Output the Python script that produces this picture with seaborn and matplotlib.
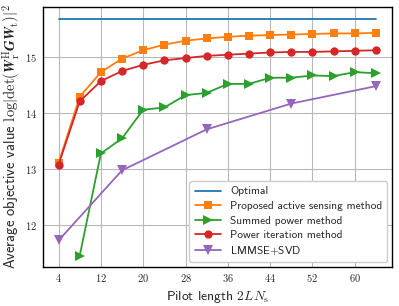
import numpy as np
import pandas as pd
import matplotlib
matplotlib.use("Agg")
import matplotlib.pyplot as plt
import seaborn as sns

pilot = [4, 8, 12, 16, 20, 24, 28, 32, 36, 40, 44, 48, 52, 56, 60, 64]
optimal = [15.68] * len(pilot)
proposed = [13.11, 14.29, 14.73, 14.97, 15.12, 15.22, 15.29, 15.33, 15.36,
            15.38, 15.39, 15.40, 15.41, 15.42, 15.42, 15.43]
summed_x = [8, 12, 16, 20, 24, 28, 32, 36, 40, 44, 48, 52, 56, 60, 64]
summed = [11.46, 13.28, 13.55, 14.06, 14.10, 14.32, 14.36, 14.52, 14.52,
          14.63, 14.63, 14.67, 14.66, 14.73, 14.71]
power = [13.08, 14.21, 14.57, 14.75, 14.86, 14.94, 14.98, 15.02, 15.04,
         15.06, 15.08, 15.09, 15.09, 15.10, 15.11, 15.12]
lmmse_x = [4, 16, 32, 48, 64]
lmmse = [11.73, 12.98, 13.71, 14.17, 14.48]
xticks = [4, 12, 20, 28, 36, 44, 52, 60]
yticks = [12, 13, 14, 15]

sns.set_style("whitegrid")
plt.rcParams['font.family'] = ['cmss10', 'DejaVu Sans']
plt.rcParams['mathtext.fontset'] = 'cm'
plt.rcParams['axes.unicode_minus'] = False

fig, ax = plt.subplots(figsize=(3.99, 3.06), dpi=100)
fig.subplots_adjust(left=0.107, right=0.982, top=0.977, bottom=0.128)

lw = 1.3
sns.lineplot(x=pilot, y=optimal, ax=ax, color='tab:blue', label='Optimal', lw=lw)
sns.lineplot(x=pilot, y=proposed, ax=ax, color='tab:orange', marker='s', markersize=5.5,
             markeredgewidth=0, label='Proposed active sensing method', lw=lw)
sns.lineplot(x=summed_x, y=summed, ax=ax, color='tab:green', marker='>', markersize=6.5,
             markeredgewidth=0, label='Summed power method', lw=lw)
sns.lineplot(x=pilot, y=power, ax=ax, color='tab:red', marker='o', markersize=6,
             markeredgewidth=0, label='Power iteration method', lw=lw)
sns.lineplot(x=lmmse_x, y=lmmse, ax=ax, color='tab:purple', marker='v', markersize=6.5,
             markeredgewidth=0, label=r'LMMSE$+$SVD', lw=lw)

ax.set_xlim(1, 67)
ax.set_ylim(11.26, 15.89)
ax.set_xticks(xticks)
ax.set_xticklabels([f'${t}$' for t in xticks])
ax.set_yticks(yticks)
ax.set_yticklabels([f'${t}$' for t in yticks])
ax.tick_params(labelsize=7.5, length=0, pad=4)
ax.grid(True, color='#b8b8b8', lw=0.8)
for s in ax.spines.values():
    s.set_color('black')
    s.set_linewidth(1.0)

ax.set_xlabel(r'Pilot length $2LN_\mathrm{s}$', fontsize=9.8, labelpad=3)
ax.set_ylabel(r'Average objective value $\log|\det(\boldsymbol{W}_\mathrm{r}^\mathrm{H}'
              r'\boldsymbol{G}\boldsymbol{W}_\mathrm{t})|^2$', fontsize=10.5, labelpad=2)

ax.legend(loc='lower right', fontsize=8.2, frameon=True, edgecolor='#cccccc',
          fancybox=True, framealpha=1, handlelength=2.3, borderpad=0.45,
          labelspacing=0.4, borderaxespad=0.4)

fig.savefig('out.png', dpi=100)
